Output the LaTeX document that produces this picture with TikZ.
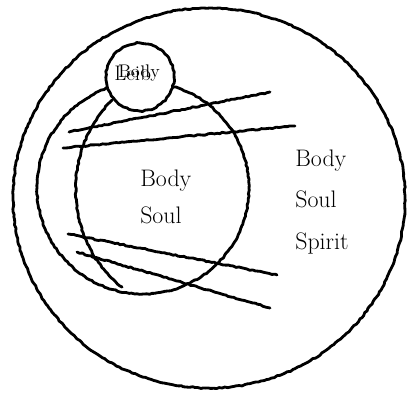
\documentclass[tikz,border=0pt]{standalone}
\usetikzlibrary{decorations.pathmorphing}
\begin{document}
\begin{tikzpicture}[x=0.025cm,y=-0.025cm,
	sketch/.style={line width=2pt,line cap=round,line join=round,
		decorate,decoration={random steps,segment length=2pt,amplitude=0.45pt}},
	lbl/.style={font=\fontsize{17}{26}\selectfont,align=left,anchor=west,inner sep=0pt}]
	\useasboundingbox (0,0) rectangle (407,396);
	% outer circle: body, soul, spirit
	\draw[sketch] (209,198) ellipse (196 and 190);
	% inner circle: body, soul
	\draw[sketch] (143,188) circle (106);
	\draw[sketch] (112,100) .. controls (62,150) and (62,240) .. (122,287);
	% the small circle
	\draw[sketch,fill=white] (140,77) circle (34);
	% cross lines
	\draw[sketch] (69,132) -- (270,92);
	\draw[sketch] (63,148) -- (295,126);
	\draw[sketch] (68,234) -- (277,275);
	\draw[sketch] (77,252) -- (270,308);
	% labels
	\node[lbl] (inner) at (140,197) {Body\\Soul};
	\node[lbl,font=\fontsize{17}{29.5}\selectfont] (outer) at (295,202) {Body\\Soul\\Spirit};
	\node[anchor=base west,inner sep=0pt,font=\fontsize{15}{15}\selectfont] (leib) at (114,80) {Leib};
	\node[anchor=base west,inner sep=0pt,font=\fontsize{13}{13}\selectfont] (body) at (118,77) {Body};
\end{tikzpicture}
\end{document}
